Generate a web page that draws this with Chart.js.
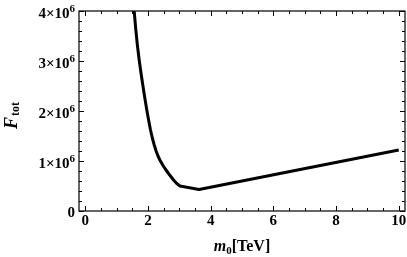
<!DOCTYPE html>
<html>
<head>
<meta charset="utf-8">
<script src="https://cdn.jsdelivr.net/npm/chart.js@4/dist/chart.umd.min.js"></script>
<style>
  html, body { margin: 0; padding: 0; background: #fff; }
</style>
</head>
<body>
<canvas id="chart" width="407" height="257"></canvas>
<script>
// values
const m0 = [1.49, 1.56, 1.61, 1.66, 1.72, 1.78, 1.84, 1.90, 1.96, 2.02, 2.08, 2.14, 2.20, 2.26, 2.32, 2.38, 2.47, 2.565, 2.68, 2.81, 2.91, 3.02, 3.63, 10.0];
const Ftot = [4.60e6, 4.00e6, 3.64e6, 3.33e6, 3.02e6, 2.75e6, 2.50e6, 2.26e6, 2.03e6, 1.82e6, 1.625e6, 1.46e6, 1.32e6, 1.20e6, 1.10e6, 1.02e6, 0.92e6, 0.83e6, 0.73e6, 0.625e6, 0.555e6, 0.50e6, 0.43e6, 1.22e6];

const xTicks = [0, 2, 4, 6, 8, 10];
const yTicks = [0, 1e6, 2e6, 3e6, 4e6];
const yTickLabels = ['0', '1×10', '2×10', '3×10', '4×10'];
const yTickExp = ['', '6', '6', '6', '6'];

const SERIF = '"Liberation Serif", "DejaVu Serif", serif';

// frame, inward ticks, tick labels and axis titles (Mathematica style)
const framePlugin = {
  id: 'frame',
  afterDraw(chart) {
    const { ctx, chartArea: a, scales: { x, y } } = chart;
    ctx.save();
    ctx.strokeStyle = '#000';
    ctx.fillStyle = '#000';

    ctx.lineWidth = 1.2;
    ctx.strokeRect(a.left, a.top, a.right - a.left, a.bottom - a.top);

    // x ticks, minor every 0.5
    ctx.lineWidth = 1;
    for (let i = 0; i <= 20; i++) {
      const px = Math.round(x.getPixelForValue(i * 0.5)) + 0.5;
      const len = i % 4 === 0 ? 5 : 3;
      ctx.beginPath();
      ctx.moveTo(px, a.bottom); ctx.lineTo(px, a.bottom - len);
      ctx.moveTo(px, a.top); ctx.lineTo(px, a.top + len);
      ctx.stroke();
    }
    // y ticks, minor every 2e5
    for (let i = 0; i <= 20; i++) {
      const py = Math.round(y.getPixelForValue(i * 2e5)) + 0.5;
      const len = i % 5 === 0 ? 5 : 3;
      ctx.beginPath();
      ctx.moveTo(a.left, py); ctx.lineTo(a.left + len, py);
      ctx.moveTo(a.right, py); ctx.lineTo(a.right - len, py);
      ctx.stroke();
    }

    // x tick labels
    ctx.font = 'bold 15px ' + SERIF;
    ctx.textAlign = 'center';
    ctx.textBaseline = 'alphabetic';
    xTicks.forEach(v => {
      ctx.fillText(String(v), x.getPixelForValue(v), a.bottom + 14);
    });

    // y tick labels with superscript exponent
    yTicks.forEach((v, i) => {
      const py = y.getPixelForValue(v);
      const right = a.left - 4;
      ctx.textAlign = 'right';
      if (yTickExp[i]) {
        ctx.font = 'bold 11px ' + SERIF;
        const w = ctx.measureText(yTickExp[i]).width;
        ctx.fillText(yTickExp[i], right, py + 1);
        ctx.font = 'bold 15px ' + SERIF;
        ctx.fillText(yTickLabels[i], right - w, py + 7);
      } else {
        ctx.font = 'bold 15px ' + SERIF;
        ctx.fillText(yTickLabels[i], right, py + 6);
      }
    });

    // x title: m0[TeV]
    {
      const parts = [
        { t: 'm', f: 'italic bold 16px ' + SERIF, dy: 0 },
        { t: '0', f: 'bold 11px ' + SERIF, dy: 3 },
        { t: '[TeV]', f: 'bold 16px ' + SERIF, dy: 0 }
      ];
      let total = 0;
      parts.forEach(p => { ctx.font = p.f; p.w = ctx.measureText(p.t).width; total += p.w; });
      let cx = (a.left + a.right) / 2 - total / 2;
      const base = 251;
      ctx.textAlign = 'left';
      parts.forEach(p => { ctx.font = p.f; ctx.fillText(p.t, cx, base + p.dy); cx += p.w; });
    }

    // y title: F_tot, rotated
    {
      ctx.translate(17, 116);
      ctx.rotate(-Math.PI / 2);
      const parts = [
        { t: 'F', f: 'italic bold 18px ' + SERIF, dy: 0 },
        { t: 'tot', f: 'bold 12px ' + SERIF, dy: 2 }
      ];
      let total = 0;
      parts.forEach(p => { ctx.font = p.f; p.w = ctx.measureText(p.t).width; total += p.w; });
      let cx = -total / 2;
      ctx.textAlign = 'left';
      parts.forEach(p => { ctx.font = p.f; ctx.fillText(p.t, cx, p.dy); cx += p.w + 1; });
    }
    ctx.restore();
  }
};

new Chart(document.getElementById('chart'), {
  type: 'line',
  data: {
    datasets: [{
      data: m0.map((v, i) => ({ x: v, y: Ftot[i] })),
      borderColor: '#000',
      borderWidth: 3,
      borderJoinStyle: 'round',
      pointRadius: 0,
      tension: 0,
      fill: false
    }]
  },
  options: {
    responsive: false,
    devicePixelRatio: 1,
    animation: false,
    layout: { padding: { left: 79, right: 2, top: 11, bottom: 46 } },
    scales: {
      x: { type: 'linear', min: -0.2, max: 10.2, display: false },
      y: { type: 'linear', min: 0, max: 4e6, display: false }
    },
    plugins: { legend: { display: false }, tooltip: { enabled: false } }
  },
  plugins: [framePlugin]
});
</script>
</body>
</html>
